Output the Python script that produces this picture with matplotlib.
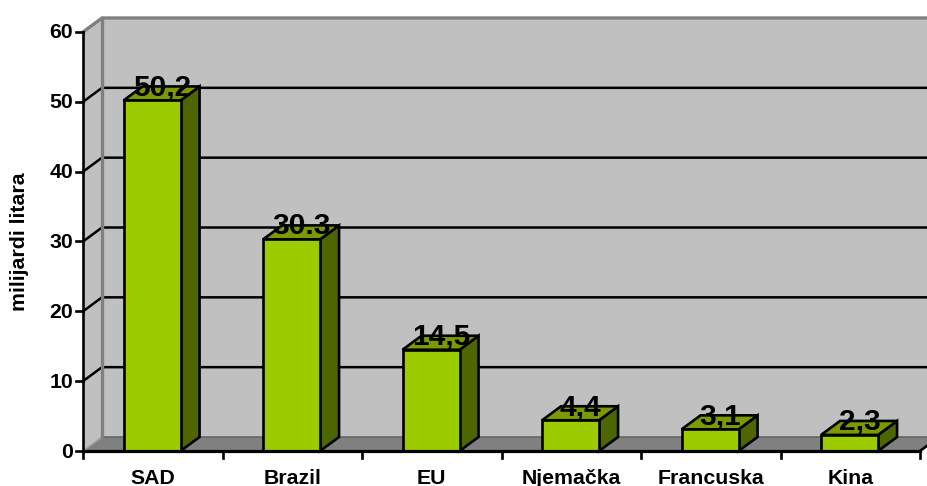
import numpy as np
import matplotlib
matplotlib.use('Agg')
import matplotlib.pyplot as plt
from matplotlib.patches import Polygon, Rectangle

plt.rcParams['font.family'] = ['Liberation Sans', 'DejaVu Sans']

# -- data
categories = ['SAD', 'Brazil', 'EU', 'Njemačka', 'Francuska', 'Kina']
values = [50.2, 30.3, 14.5, 4.4, 3.1, 2.3]
value_labels = ['50,2', '30.3', '14,5', '4,4', '3,1', '2,3']
y_ticks = [0, 10, 20, 30, 40, 50, 60]
y_title = 'milijardi litara'

# -- colours
WALL = '#c0c0c0'
FLOOR = '#808080'
EDGE = '#808080'
FRONT = '#9ccc00'
TOP = '#7c9a00'
SIDE = '#4d6600'

W, H = 927, 486
x0, x1 = 83, 920   # front plane, pixels
y0, y1 = 451, 32

fig = plt.figure(figsize=(W / 100, H / 100), dpi=100)
ax = fig.add_axes([x0 / W, 1 - y0 / H, (x1 - x0) / W, (y0 - y1) / H])
ax.set_xlim(0, len(categories))
ax.set_ylim(0, 60)
ax.axis('off')

# depth of the fake 3d box, in data units
dx = 19 / ((x1 - x0) / 6)
dy = 14 / ((y0 - y1) / 60)
n = len(categories)
top = y_ticks[-1]


def poly(pts, fc, ec='none', lw=0, z=1):
    ax.add_patch(Polygon(pts, closed=True, fc=fc, ec=ec, lw=lw, zorder=z,
                         clip_on=False, joinstyle='miter'))


# walls and floor
poly([(dx, dy), (n + dx, dy), (n + dx, top + dy), (dx, top + dy)], WALL, z=1)
poly([(0, 0), (dx, dy), (dx, top + dy), (0, top)], WALL, z=1)
poly([(0, 0), (n, 0), (n + dx, dy), (dx, dy)], FLOOR, z=2)
ax.plot([dx, n + dx], [dy, dy], color='#666666', lw=1.2, zorder=2, clip_on=False)
ax.plot([0, dx], [0, dy], color='#a0a0a0', lw=1.2, zorder=2, clip_on=False)

# gridlines on back and left wall
for t in y_ticks[1:-1]:
    ax.plot([0, dx, n + dx], [t, t + dy, t + dy], color='black', lw=1.8, zorder=3,
            clip_on=False, solid_joinstyle='miter')

# grey wall edges sit over the gridlines
ax.plot([dx, dx], [dy, top + dy], color=EDGE, lw=2.4, zorder=3.5, clip_on=False)
ax.plot([0, dx, n + dx], [top, top + dy, top + dy], color=EDGE, lw=2.4, zorder=3.5,
        clip_on=False, solid_joinstyle='miter')

# bars
width = 57 / ((x1 - x0) / 6)
for i, (v, lab) in enumerate(zip(values, value_labels)):
    left = i + 0.5 - width / 2 - 0.005
    right = left + width
    poly([(right, 0), (right + dx, dy), (right + dx, v + dy), (right, v)], SIDE, 'black', 1.9, 4)
    poly([(left, v), (right, v), (right + dx, v + dy), (left + dx, v + dy)], TOP, 'black', 1.9, 4)
    ax.add_patch(Rectangle((left, 0), width, v, fc=FRONT, ec='black', lw=1.9, zorder=5,
                           clip_on=False, joinstyle='miter'))
    ax.annotate(lab, ((left + right) / 2, v), xytext=(10, -1), textcoords='offset pixels',
                ha='center', va='bottom', fontsize=21.5, fontweight='bold', zorder=7,
                annotation_clip=False)

# front axes and ticks
ax.plot([0, n], [0, 0], color='black', lw=2.3, zorder=6, clip_on=False)
ax.plot([0, 0], [0, top], color='black', lw=1.9, zorder=6, clip_on=False)
ax.plot([n, n + dx], [0, dy], color='black', lw=1.9, zorder=6, clip_on=False)
for t in y_ticks:
    ax.plot([0, -7 / ((x1 - x0) / 6)], [t, t], color='black', lw=1.9, zorder=6, clip_on=False)
    ax.annotate(str(t), (0, t), xytext=(-10, -1), textcoords='offset pixels', ha='right',
                va='center', fontsize=15.3, fontweight='bold', annotation_clip=False)
for i in range(n + 1):
    ax.plot([i, i], [0, -7 / ((y0 - y1) / 60)], color='black', lw=1.9, zorder=6, clip_on=False)
for i, c in enumerate(categories):
    ax.annotate(c, (i + 0.5, 0), xytext=(0, -27), textcoords='offset pixels', ha='center',
                va='center', fontsize=15.3, fontweight='bold', annotation_clip=False)

fig.text(20 / W, 1 - 242 / H, y_title, rotation=90, ha='center', va='center',
         fontsize=15.3, fontweight='bold')

fig.savefig('out.png', dpi=100)
